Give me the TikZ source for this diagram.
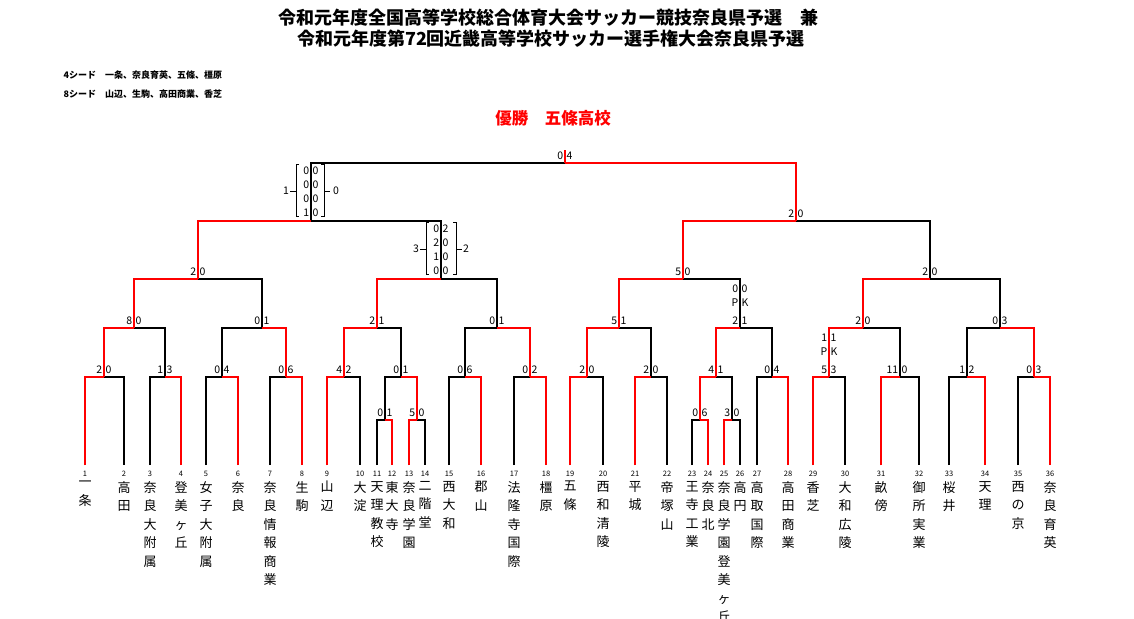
\documentclass[tikz,border=0pt]{standalone}
\usepackage{fontspec}
\newfontfamily\jp{Noto Sans CJK JP}
\usetikzlibrary{positioning}

% vertical team names: one character per line
\def\vnfirst#1{#1\vnrest}
\def\vnrest#1{\ifx\relax#1\else\\#1\expandafter\vnrest\fi}
\def\vname#1{\vnfirst#1\relax}

\tikzset{
  line/.style={draw=black,line width=1.1pt},
  win/.style={draw=red,line width=2.4pt},
  score/.style={font=\jp\fontsize{10.5}{11}\selectfont,inner sep=0pt},
  seedno/.style={font=\jp\fontsize{7.5}{8}\selectfont,inner sep=0pt,anchor=base},
  team/.style={font=\jp\fontsize{13}{18.5}\selectfont,inner sep=0pt,anchor=north,align=center,text width=14pt},
}

\begin{document}
\begin{tikzpicture}[x=1pt,y=-1pt]
\useasboundingbox (0,0) rectangle (1134,618);

% titles
\node[font=\jp\bfseries\fontsize{18}{20}\selectfont] (title1) at (548,18) {令和元年度全国高等学校総合体育大会サッカー競技奈良県予選　兼};
\node[font=\jp\bfseries\fontsize{18}{20}\selectfont] (title2) at (551,39) {令和元年度第72回近畿高等学校サッカー選手権大会奈良県予選};
\node[font=\jp\bfseries\fontsize{9}{10}\selectfont,anchor=west] (seed4) at (60,75) {4シード　一条、奈良育英、五條、橿原};
\node[font=\jp\bfseries\fontsize{9}{10}\selectfont,anchor=west] (seed8) at (60,94) {8シード　山辺、生駒、高田商業、香芝};
\node[font=\jp\bfseries\fontsize{16.5}{18}\selectfont,text=red] (champ) at (553,118) {優勝　五條高校};

% teams
\foreach \n/\x/\name in {1/85/一条,2/124/高田,3/150/奈良大附属,4/181/登美ヶ丘,5/206/女子大附属,
  6/238/奈良,7/270/奈良情報商業,8/302/生駒,9/327/山辺,10/360/大淀,11/377/天理教校,12/392/東大寺,
  13/409/奈良学園,14/425/二階堂,15/449/西大和,16/481/郡山,17/514/法隆寺国際,18/546/橿原,
  19/570/五條,20/603/西和清陵,21/635/平城,22/667/帝塚山,23/692/王寺工業,24/708/奈良北,
  25/724/奈良学園登美ヶ丘,26/740/高円,27/757/高取国際,28/788/高田商業,29/813/香芝,
  30/845/大和広陵,31/881/畝傍,32/919/御所実業,33/949/桜井,34/985/天理,35/1018/西の京,36/1050/奈良育英}{
  \coordinate (t\n) at (\x,465);
  \node[seedno] (no\n) at (\x,476) {\n};
  \node[team] (name\n) at (\x,481) {\expandafter\vname\expandafter{\name}};
}

% match junctions
\foreach \m/\x/\y in {a1/104/377,a2/165/377,a3/222/377,a4/286/377,a5/344/377,p1/385/420,p2/417/420,
  a6/401/377,a7/465/377,a8/530/377,a9/587/377,a10/651/377,p3/700/420,p4/732/420,a11/716/377,
  a12/772/377,a13/829/377,a14/900/377,a15/967/377,a16/1034/377,
  b1/134/328,b2/262/328,b3/377/328,b4/497/328,b5/619/328,b6/740/328,b7/863/328,b8/1000/328,
  c1/198/279,c2/441/279,c3/683/279,c4/930/279,d1/311/221,d2/796/221,f/565/163}
  \coordinate (\m) at (\x,\y);
\coordinate (top) at (565,150);

% brackets
\foreach \p/\l/\r in {a1/t1/t2,a2/t3/t4,a3/t5/t6,a4/t7/t8,a5/t9/t10,p1/t11/t12,p2/t13/t14,a6/p1/p2,
  a7/t15/t16,a8/t17/t18,a9/t19/t20,a10/t21/t22,p3/t23/t24,p4/t25/t26,a11/p3/p4,a12/t27/t28,
  a13/t29/t30,a14/t31/t32,a15/t33/t34,a16/t35/t36,b1/a1/a2,b2/a3/a4,b3/a5/a6,b4/a7/a8,
  b5/a9/a10,b6/a11/a12,b7/a13/a14,b8/a15/a16,c1/b1/b2,c2/b3/b4,c3/b5/b6,c4/b7/b8,
  d1/c1/c2,d2/c3/c4,f/d1/d2}
  \draw[line] (\l) |- (\p) -| (\r);

% winners
\foreach \p/\w in {a1/t1,a2/t4,a3/t6,a4/t8,a5/t9,p1/t12,p2/t13,a6/p2,a7/t16,a8/t18,a9/t19,
  a10/t21,p3/t24,p4/t25,a11/p3,a12/t28,a13/t29,a14/t31,a15/t34,a16/t36,b1/a1,b2/a4,b3/a5,
  b4/a8,b5/a9,b6/a11,b7/a13,b8/a16,c1/b1,c2/b3,c3/b5,c4/b7,d1/c1,d2/c3,f/d2}
  \draw[win] (\w) |- (\p);
\draw[win] (f) -- (top);

% scores
\foreach \p/\ls/\rs in {a1/2/0,a2/1/3,a3/0/4,a4/0/6,a5/4/2,p1/0/1,p2/5/0,a6/0/1,a7/0/6,a8/0/2,
  a9/2/0,a10/2/0,p3/0/6,p4/3/0,a11/4/1,a12/0/4,a13/5/3,a14/11/0,a15/1/2,a16/0/3,
  b1/8/0,b2/0/1,b3/2/1,b4/0/1,b5/5/1,b6/2/1,b7/2/0,b8/0/3,c1/2/0,c3/5/0,c4/2/0,d2/2/0,f/0/4}{
  \node[score,anchor=base east] at ([xshift=-1.5pt,yshift=4pt]\p) {\ls};
  \node[score,anchor=base west] at ([xshift=1.5pt,yshift=4pt]\p) {\rs};
}

% penalty kicks
\foreach \p/\ls/\rs/\h in {b6/P/K/18,b6/0/0/32,a13/P/K/18,a13/1/1/32}{
  \node[score,anchor=base east] at ([xshift=-1.5pt,yshift=4pt+\h pt]\p) {\ls};
  \node[score,anchor=base west] at ([xshift=1.5pt,yshift=4pt+\h pt]\p) {\rs};
}

% score boxes with halves
\foreach \p/\k/\ls/\rs in {d1/1/0/0,d1/2/0/0,d1/3/0/0,d1/4/1/0,c2/1/0/2,c2/2/2/0,c2/3/1/0,c2/4/0/0}{
  \node[score,anchor=base east] at ([xshift=-1.5pt,yshift=61pt-14*\k pt]\p) {\ls};
  \node[score,anchor=base west] at ([xshift=1.5pt,yshift=61pt-14*\k pt]\p) {\rs};
}
\draw[line,line width=0.7pt] (299,164) -- (296,164) -- (296,216) -- (299,216) (290,191) -- (296,191);
\draw[line,line width=0.7pt] (321,164) -- (324,164) -- (324,216) -- (321,216) (324,191) -- (330,191);
\node[score] (sfl) at (286,191) {1};
\node[score] (sfr) at (336,191) {0};
\draw[line,line width=0.7pt] (429,222) -- (426,222) -- (426,274) -- (429,274) (420,249) -- (426,249);
\draw[line,line width=0.7pt] (453,222) -- (456,222) -- (456,274) -- (453,274) (456,249) -- (462,249);
\node[score] (qfl) at (416,249) {3};
\node[score] (qfr) at (466,249) {2};
\end{tikzpicture}
\end{document}
